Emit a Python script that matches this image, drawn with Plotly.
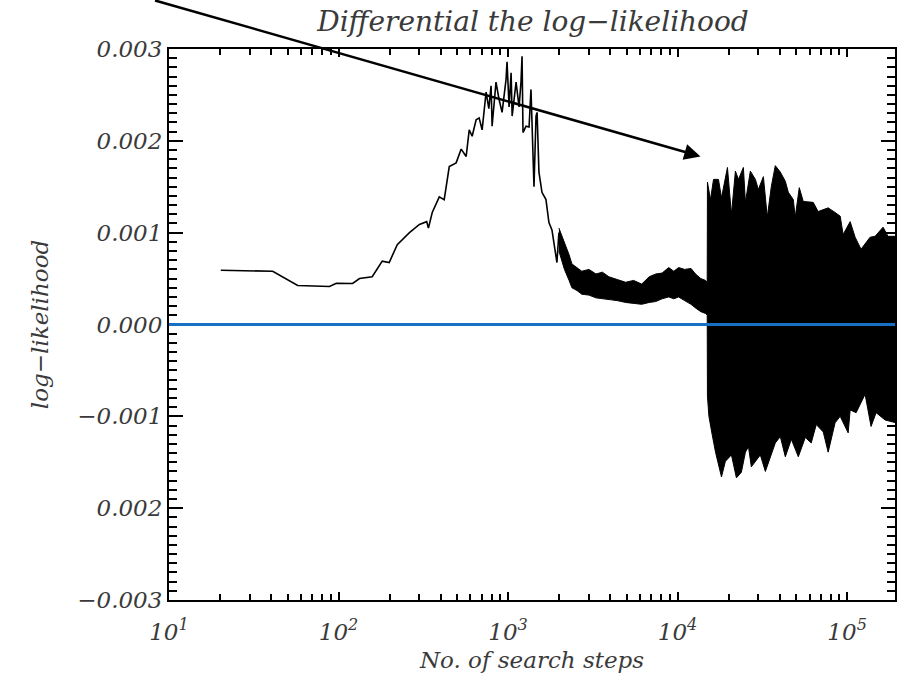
import numpy as np
import plotly.graph_objects as go

# ---- data (log-likelihood values in units of 1e-3) ----
steps_line = [20.2, 40.9, 57.4, 88.5, 97, 121, 133, 158, 181, 199, 222, 262, 300, 331, 339,
              357, 393, 420, 450, 494, 529, 566, 590, 614, 648, 675, 703, 742, 770, 794,
              805, 849, 885, 922, 973, 986, 1014, 1042, 1057, 1115, 1161, 1192, 1209, 1225,
              1276, 1330, 1365, 1390, 1422, 1462, 1483, 1521, 1585, 1673, 1742, 1815, 1942, 1995]
llk_line_milli = [0.59, 0.58, 0.425, 0.414, 0.45, 0.447, 0.50, 0.52, 0.69, 0.675, 0.87, 1.00, 1.09, 1.12, 1.05,
                  1.22, 1.39, 1.36, 1.72, 1.76, 1.91, 1.83, 2.12, 2.05, 2.23, 2.25, 2.12, 2.53, 2.35, 2.60,
                  2.16, 2.64, 2.45, 2.31, 2.67, 2.86, 2.37, 2.74, 2.27, 2.64, 2.37, 2.64, 2.92, 2.09,
                  2.16, 2.15, 2.56, 2.09, 1.50, 2.27, 2.31, 1.66, 1.44, 1.36, 1.11, 1.03, 0.675, 1.00]

# oscillating band: upper and lower envelopes
band_upper_steps = [1995, 2150, 2290, 2380, 2550, 2720, 3000, 3300, 3600, 3930, 4400, 4940, 5500,
                    6140, 6800, 7430, 8100, 8860, 9500, 10140, 11000, 12000, 12760, 13700, 14620, 14950,
                    15000, 15630, 16290, 17420, 18150, 19680, 20780, 21930, 22860, 24440, 25120, 26860,
                    28770, 29940, 32060, 33810, 35700, 37690, 40350, 43190, 44970, 48120, 49420, 52210,
                    55130, 63100, 67450, 77300, 84900, 91000, 94700, 104200, 111500, 120800, 136500,
                    146200, 162900, 174200, 194200]
band_upper_milli = [1.05, 0.90, 0.76, 0.66, 0.62, 0.58, 0.60, 0.55, 0.57, 0.52, 0.49, 0.46, 0.48,
                    0.44, 0.52, 0.55, 0.56, 0.62, 0.58, 0.62, 0.60, 0.61, 0.55, 0.50, 0.48, 0.46,
                    1.55, 1.36, 1.58, 1.58, 1.38, 1.71, 1.20, 1.67, 1.58, 1.71, 1.33, 1.67,
                    1.58, 1.47, 1.61, 1.17, 1.50, 1.73, 1.66, 1.56, 1.44, 1.36, 1.17, 1.49,
                    1.34, 1.33, 1.23, 1.27, 1.22, 1.18, 0.98, 1.12, 0.95, 0.82, 0.95,
                    0.96, 1.06, 0.96, 0.96]
band_lower_steps = [1995, 2150, 2290, 2380, 2550, 2720, 3000, 3300, 3600, 3930, 4400, 4940, 5500,
                    6140, 6800, 7430, 8100, 8860, 9500, 10140, 11000, 12000, 12760, 13700, 14620, 14950,
                    15000, 15300, 16000, 16740, 18150, 19140, 20780, 22230, 23770, 25120, 26180, 27220,
                    30760, 32940, 37690, 40350, 43190, 46880, 51520, 56650, 61400, 65770, 72300,
                    77300, 84900, 91000, 101400, 104200, 113000, 127600, 138400, 148200, 167500, 194200]
band_lower_milli = [0.80, 0.60, 0.48, 0.40, 0.37, 0.33, 0.32, 0.29, 0.28, 0.27, 0.26, 0.24, 0.23,
                    0.22, 0.24, 0.25, 0.28, 0.30, 0.28, 0.30, 0.26, 0.22, 0.18, 0.14, 0.12, 0.10,
                    -0.78, -1.00, -1.20, -1.39, -1.66, -1.49, -1.42, -1.67, -1.61, -1.39, -1.33, -1.55,
                    -1.42, -1.60, -1.29, -1.22, -1.44, -1.25, -1.44, -1.23, -1.29, -1.09, -1.17,
                    -1.39, -1.07, -1.00, -1.18, -0.93, -0.96, -0.76, -1.11, -0.96, -1.04, -1.07]

zero_level = 0.0
y_tickvals = [0.003, 0.002, 0.001, 0.0, -0.001, -0.002, -0.003]
y_ticktext = ["0.003", "0.002", "0.001", "0.000", "\u22120.001", "0.002", "\u22120.003"]
x_tickvals = [10, 100, 1000, 10000, 100000]
x_ticktext = ["10<sup>1</sup>", "10<sup>2</sup>", "10<sup>3</sup>", "10<sup>4</sup>", "10<sup>5</sup>"]

scale = 1e-3
llk_line = np.array(llk_line_milli) * scale
band_upper = np.array(band_upper_milli) * scale
band_lower = np.array(band_lower_milli) * scale

FONT = "DejaVu Serif"
TXT = "#3a3a3a"

fig = go.Figure()

# dense oscillation band as a filled polygon
poly_x = list(band_upper_steps) + list(band_lower_steps[::-1])
poly_y = list(band_upper) + list(band_lower[::-1])
fig.add_trace(go.Scatter(x=poly_x, y=poly_y, mode="lines", fill="toself",
                         fillcolor="black", line=dict(color="black", width=1),
                         hoverinfo="skip", showlegend=False))
fig.add_trace(go.Scatter(x=steps_line, y=llk_line, mode="lines",
                         line=dict(color="black", width=1.6), showlegend=False))

# zero reference line, above everything (also above the mirrored ticks)
fig.add_hline(y=zero_level, line=dict(color="#1670c4", width=3), layer="above")

x_lo, x_hi = 1.0, 1.0 + 728 / 170

fig.update_xaxes(type="log", range=[x_lo, x_hi], tickmode="array", tickvals=x_tickvals,
                 ticktext=x_ticktext, ticks="inside", ticklen=8, tickwidth=1.5, tickcolor="black",
                 mirror="ticks", showline=True, linecolor="black", linewidth=2, showgrid=False,
                 zeroline=False, ticklabelstandoff=10,
                 minor=dict(ticks="inside", ticklen=6, tickwidth=1.5, tickcolor="black", dtick="D1", showgrid=False),
                 tickfont=dict(family=FONT, size=23, color=TXT, style="italic"),
                 title=dict(text="No. of search steps", standoff=8,
                            font=dict(family=FONT, size=23, color=TXT, style="italic")))
fig.update_yaxes(range=[-0.003, 0.003], tickmode="array", tickvals=y_tickvals, ticktext=y_ticktext,
                 ticks="inside", ticklen=14, tickwidth=1.5, tickcolor="black",
                 mirror="ticks", showline=True, linecolor="black", linewidth=2, showgrid=False,
                 zeroline=False,
                 minor=dict(ticks="inside", ticklen=8, tickwidth=1.5, tickcolor="black",
                            tick0=0, dtick=0.0001, showgrid=False),
                 tickfont=dict(family=FONT, size=23, color=TXT, style="italic"),
                 title=dict(text="log\u2212likelihood", standoff=22,
                            font=dict(family=FONT, size=23, color=TXT, style="italic")))

fig.add_annotation(x=np.log10(13650), y=0.00183, xref="x", yref="y",
                   ax=-547, ay=-157, axref="pixel", ayref="pixel",
                   showarrow=True, arrowhead=2, arrowsize=1.3, arrowwidth=2.5,
                   arrowcolor="black", text="")

fig.update_layout(
    width=898, height=677,
    margin=dict(l=169, r=1, t=49, b=77),
    paper_bgcolor="white", plot_bgcolor="white",
    title=dict(text="Differential the log\u2212likelihood", x=(169 + 897) / 2 / 898, xanchor="center",
               y=1 - 21 / 677, yanchor="middle",
               font=dict(family=FONT, size=28, color=TXT, style="italic")),
    showlegend=False,
)

fig.write_html("out.html")
